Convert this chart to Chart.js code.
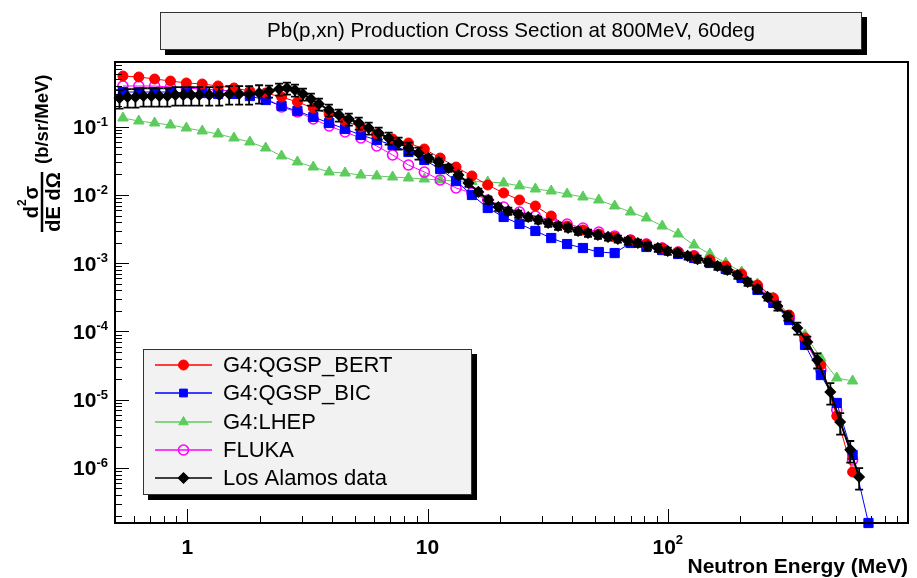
<!DOCTYPE html>
<html>
<head>
<meta charset="utf-8">
<title>Pb(p,xn) Production Cross Section at 800MeV, 60deg</title>
<script src="https://cdn.jsdelivr.net/npm/chart.js@4.4.1/dist/chart.umd.min.js"></script>
<style>
  html, body { margin: 0; padding: 0; background: #fff; }
  #wrap { width: 917px; height: 578px; }
</style>
</head>
<body>
<div id="wrap"><canvas id="xsChart" width="917" height="578"></canvas></div>
<script>
/* ============================================
   Pb(p,xn) double differential cross section
   ============================================ */

// Model bin centres (MeV)
const modelEnergy = [0.5395, 0.628, 0.731, 0.851, 0.991, 1.154, 1.343, 1.564, 1.821, 2.120,
  2.468, 2.873, 3.345, 3.894, 4.534, 5.278, 6.145, 7.154, 8.329, 9.697,
  11.29, 13.14, 15.30, 17.81, 20.74, 24.14, 28.11, 32.72, 38.10, 44.35,
  51.63, 60.11, 69.98, 81.47, 94.85, 110.4, 128.6, 149.7, 174.3, 202.9,
  236.2, 275.0, 320.2, 372.7, 433.9, 505.2, 588.1, 684.7, 797.1, 928.0];

const qgspBert = [0.554, 0.536, 0.501, 0.468, 0.438, 0.423, 0.396, 0.370, 0.334, 0.312,
  0.273, 0.231, 0.188, 0.154, 0.121, 0.0992, 0.0783, 0.0661, 0.0578, 0.0472,
  0.0348, 0.0257, 0.0190, 0.0140, 0.0107, 0.00845, 0.0069, 0.00492, 0.00351, 0.00307,
  0.00268, 0.00242, 0.00219, 0.00191, 0.00167, 0.00146, 0.00128, 0.00112, 0.000912, 0.000696,
  0.00048, 0.00031, 0.000174, 0.0000803, 0.0000323, 0.00000578, 0.000000874];

const qgspBic = [0.323, 0.323, 0.323, 0.323, 0.312, 0.312, 0.302, 0.302, 0.282, 0.2465,
  0.2014, 0.1701, 0.139, 0.1135, 0.0927, 0.0757, 0.0639, 0.054, 0.0427, 0.0326,
  0.024, 0.016, 0.01, 0.00645, 0.00476, 0.00376, 0.00297, 0.00234, 0.00191, 0.00167,
  0.00146, 0.00141, 0.00198, 0.00173, 0.00156, 0.001366, 0.001193, 0.001008, 0.000824, 0.000608,
  0.000406, 0.000262, 0.000147, 0.0000634, 0.000023, 0.00000896, 0.00000155, 0.000000156];

const lhep = [0.1343, 0.1214, 0.1135, 0.1061, 0.0959, 0.0867, 0.0783, 0.0684, 0.0598, 0.0488,
  0.0373, 0.0305, 0.0257, 0.0217, 0.0210, 0.0196, 0.0190, 0.01835, 0.01774, 0.01715,
  0.0166, 0.01604, 0.01575, 0.0155, 0.0150, 0.0136, 0.01224, 0.01144, 0.01034, 0.00935,
  0.00845, 0.0069, 0.00563, 0.0046, 0.00351, 0.00268, 0.00185, 0.001366, 0.001008, 0.000745,
  0.000497, 0.00031, 0.000158, 0.0000889, 0.0000409, 0.0000208, 0.0000188];

const fluka = [0.3955, 0.3955, 0.3955, 0.3823, 0.3696, 0.3573, 0.3454, 0.3341, 0.3123, 0.2638,
  0.1947, 0.1645, 0.1299, 0.1026, 0.0838, 0.0684, 0.0522, 0.0386, 0.0275, 0.0217,
  0.0166, 0.01267, 0.0107, 0.00845, 0.00667, 0.00563, 0.00492, 0.0043, 0.00376, 0.00328,
  0.00287, 0.00251, 0.00219, 0.00191, 0.00167, 0.00146, 0.00128, 0.00108, 0.000881, 0.00065,
  0.000449, 0.000289, 0.000158, 0.0000751, 0.0000273, 0.00000708, 0.00000131];

// Los Alamos measurement
const dataEnergy = [0.522, 0.564, 0.608, 0.657, 0.709, 0.765, 0.826, 0.892, 0.962, 1.039,
  1.121, 1.234, 1.358, 1.494, 1.644, 1.808, 1.99, 2.189, 2.409, 2.599,
  2.806, 3.029, 3.27, 3.53, 3.884, 4.273, 4.701, 5.172, 5.69, 6.26,
  6.888, 7.578, 8.337, 9.17, 10.1, 11.11, 12.22, 13.45, 14.8, 16.28,
  17.91, 19.7, 21.68, 23.85, 26.24, 28.87, 31.77, 34.95, 38.46, 42.31,
  46.56, 51.2, 56.4, 62.0, 68.2, 75.1, 82.6, 90.9, 100, 110,
  121, 133, 147, 161, 177, 195, 215, 236, 260, 286,
  315, 346, 381, 419, 475, 522, 575, 626];

const dataXs = [0.264, 0.273, 0.273, 0.282, 0.282, 0.282, 0.282, 0.292, 0.292, 0.292,
  0.292, 0.292, 0.292, 0.302, 0.302, 0.302, 0.312, 0.334, 0.357, 0.370,
  0.345, 0.302, 0.255, 0.216, 0.176, 0.149, 0.130, 0.1135, 0.0959, 0.081,
  0.0684, 0.0578, 0.0489, 0.0412, 0.0348, 0.0305, 0.0249, 0.0196, 0.0150, 0.0111,
  0.00845, 0.00667, 0.00583, 0.00527, 0.00476, 0.00431, 0.00389, 0.00351, 0.00329, 0.00297,
  0.00277, 0.00259, 0.00243, 0.00227, 0.00212, 0.00198, 0.00179, 0.00167, 0.00151, 0.00141,
  0.00128, 0.00115, 0.00104, 0.000912, 0.000796, 0.000673, 0.000531, 0.000419, 0.000321, 0.000237,
  0.000169, 0.0001125, 0.0000701, 0.0000382, 0.000013, 0.00000472, 0.00000184, 0.000000738];

// relative errors of the measurement
const dataErr = [0.3, 0.3, 0.3, 0.3, 0.3, 0.3, 0.3, 0.3, 0.3, 0.3,
  0.3, 0.3, 0.3, 0.3, 0.3, 0.3, 0.3, 0.2, 0.2, 0.2,
  0.2, 0.2, 0.2, 0.2, 0.2, 0.2, 0.2, 0.2, 0.2, 0.2,
  0.2, 0.2, 0.2, 0.2, 0.12, 0.12, 0.12, 0.12, 0.12, 0.12,
  0.12, 0.12, 0.12, 0.12, 0.12, 0.12, 0.12, 0.12, 0.12, 0.12,
  0.12, 0.12, 0.12, 0.12, 0.12, 0.12, 0.12, 0.12, 0.12, 0.12,
  0.12, 0.12, 0.12, 0.12, 0.12, 0.12, 0.12, 0.12, 0.12, 0.15,
  0.15, 0.2, 0.2, 0.25, 0.35, 0.35, 0.35, 0.35];

// Axis ticks
const xTickValues = [1, 10, 100];
const xTickBase = ['1', '10', '10'];
const xTickExp = ['', '', '2'];
const yTickValues = [1e-1, 1e-2, 1e-3, 1e-4, 1e-5, 1e-6];
const yTickExp = ['-1', '-2', '-3', '-4', '-5', '-6'];

const FONT = '"Liberation Sans", Arial, Helvetica, sans-serif';
const toPoints = (xs, ys) => ys.map((y, i) => ({ x: xs[i], y }));

const series = [
  { label: 'G4:QGSP_BERT',    color: '#ff0000', fill: '#ff0000', style: 'circle',   radius: 5,   bw: 1,   lw: 1,   data: toPoints(modelEnergy, qgspBert), order: 1 },
  { label: 'G4:QGSP_BIC',     color: '#0000ff', fill: '#0000ff', style: 'rect',     radius: 6.5, bw: 1,   lw: 1,   data: toPoints(modelEnergy, qgspBic),  order: 2 },
  { label: 'G4:LHEP',         color: '#5ccc5c', fill: '#5ccc5c', style: 'triangle', radius: 6,   bw: 1,   lw: 1,   data: toPoints(modelEnergy, lhep),     order: 4 },
  { label: 'FLUKA',           color: '#ff00ff', fill: 'rgba(0,0,0,0)', style: 'circle', radius: 5, bw: 1.6, lw: 1, data: toPoints(modelEnergy, fluka), order: 3 },
  { label: 'Los Alamos data', color: '#000000', fill: '#000000', style: 'rectRot',  radius: 5,   bw: 1.5, lw: 2,   data: toPoints(dataEnergy, dataXs),    order: 0 },
];

function drawPow(ctx, base, exp, x, baseY, expY, align) {
  ctx.font = 'bold 21px ' + FONT;
  const wb = ctx.measureText(base).width;
  ctx.font = 'bold 13px ' + FONT;
  const we = exp ? ctx.measureText(exp).width : 0;
  const total = wb + we;
  let start = align === 'right' ? x - total : x - total / 2;
  ctx.textAlign = 'left';
  ctx.textBaseline = 'alphabetic';
  ctx.font = 'bold 21px ' + FONT;
  ctx.fillText(base, start, baseY);
  if (exp) {
    ctx.font = 'bold 13px ' + FONT;
    ctx.fillText(exp, start + wb, expY);
  }
}

function marker(ctx, s, x, y) {
  ctx.save();
  ctx.fillStyle = s.fill;
  ctx.strokeStyle = s.color;
  ctx.lineWidth = s.bw;
  if (Chart.helpers && Chart.helpers.drawPoint) {
    Chart.helpers.drawPoint(ctx, { pointStyle: s.style, radius: Math.min(s.radius, 5.5), borderWidth: s.bw, rotation: 0 }, x, y);
  }
  ctx.restore();
}

const rootPlugin = {
  id: 'rootDecor',
  beforeDraw(chart) {
    const ctx = chart.ctx;
    ctx.save();
    ctx.fillStyle = '#fff';
    ctx.fillRect(0, 0, chart.width, chart.height);
    ctx.restore();
  },
  afterDatasetsDraw(chart) {
    // error bars on the measurement
    const ctx = chart.ctx;
    const xs = chart.scales.x, ys = chart.scales.y;
    ctx.save();
    ctx.strokeStyle = '#000';
    ctx.lineWidth = 1.8;
    dataEnergy.forEach((e, i) => {
      const px = xs.getPixelForValue(e);
      const lo = ys.getPixelForValue(dataXs[i] * (1 - dataErr[i]));
      const hi = ys.getPixelForValue(dataXs[i] * (1 + dataErr[i]));
      ctx.beginPath();
      ctx.moveTo(px, lo); ctx.lineTo(px, hi);
      ctx.moveTo(px - 4, lo); ctx.lineTo(px + 4, lo);
      ctx.moveTo(px - 4, hi); ctx.lineTo(px + 4, hi);
      ctx.stroke();
    });
    ctx.restore();
  },
  afterDraw(chart) {
    const ctx = chart.ctx;
    const ca = chart.chartArea;
    const xs = chart.scales.x, ys = chart.scales.y;
    ctx.save();

    // frame
    ctx.strokeStyle = '#000';
    ctx.lineWidth = 2;
    ctx.strokeRect(ca.left, ca.top, ca.right - ca.left, ca.bottom - ca.top);

    // ticks
    ctx.lineWidth = 1;
    ctx.beginPath();
    for (let d = -1; d <= 3; d++) {
      for (let m = 1; m <= 9; m++) {
        const v = m * Math.pow(10, d);
        if (v <= xs.min || v >= xs.max) continue;
        const px = Math.round(xs.getPixelForValue(v)) + 0.5;
        const len = m === 1 ? 14 : 7;
        ctx.moveTo(px, ca.bottom); ctx.lineTo(px, ca.bottom - len);
      }
    }
    for (let d = -7; d <= -1; d++) {
      for (let m = 1; m <= 9; m++) {
        const v = m * Math.pow(10, d);
        if (v <= ys.min || v >= ys.max) continue;
        const py = Math.round(ys.getPixelForValue(v)) + 0.5;
        const len = m === 1 ? 14 : 7;
        ctx.moveTo(ca.left, py); ctx.lineTo(ca.left + len, py);
      }
    }
    ctx.stroke();

    // tick labels
    ctx.fillStyle = '#000';
    xTickValues.forEach((v, i) => {
      drawPow(ctx, xTickBase[i], xTickExp[i], xs.getPixelForValue(v), 554, 544, 'center');
    });
    yTickValues.forEach((v, i) => {
      const py = ys.getPixelForValue(v);
      drawPow(ctx, '10', yTickExp[i], 108, py + 7.5, py - 1, 'right');
    });

    // x title
    ctx.font = 'bold 21px ' + FONT;
    ctx.textAlign = 'right';
    ctx.textBaseline = 'alphabetic';
    ctx.fillText('Neutron Energy (MeV)', 908, 573);

    // y title (rotated fraction)
    ctx.save();
    ctx.translate(42, 202);
    ctx.rotate(-Math.PI / 2);
    ctx.lineWidth = 2.5;
    ctx.beginPath(); ctx.moveTo(-30, 0); ctx.lineTo(30, 0); ctx.stroke();
    ctx.textBaseline = 'alphabetic';
    ctx.textAlign = 'left';
    ctx.font = 'bold 20px ' + FONT;
    const wd = ctx.measureText('d').width, ws = ctx.measureText('\u03c3').width;
    ctx.font = 'bold 12px ' + FONT;
    const w2 = ctx.measureText('2').width;
    let u = -(wd + w2 + ws) / 2;
    ctx.font = 'bold 20px ' + FONT;
    ctx.fillText('d', u, -4);
    ctx.font = 'bold 12px ' + FONT;
    ctx.fillText('2', u + wd, -16);
    ctx.font = 'bold 20px ' + FONT;
    ctx.fillText('\u03c3', u + wd + w2, -4);
    ctx.textAlign = 'center';
    ctx.fillText('dE d\u03a9', 0, 18);
    ctx.textAlign = 'left';
    ctx.font = 'bold 18.5px ' + FONT;
    ctx.fillText('(b/sr/MeV)', 38, 6);
    ctx.restore();

    // title box
    ctx.fillStyle = '#000';
    ctx.fillRect(165, 17, 702, 38);
    ctx.fillStyle = '#f0f0f0';
    ctx.fillRect(160, 12, 702, 38);
    ctx.strokeStyle = '#333';
    ctx.lineWidth = 1;
    ctx.strokeRect(160.5, 12.5, 701, 37);
    ctx.fillStyle = '#000';
    ctx.font = '20.6px ' + FONT;
    ctx.textAlign = 'center';
    ctx.textBaseline = 'middle';
    ctx.fillText('Pb(p,xn) Production Cross Section at 800MeV, 60deg', 511, 31);

    // legend box
    ctx.fillStyle = '#000';
    ctx.fillRect(148, 354, 329, 146);
    ctx.fillStyle = '#f2f2f2';
    ctx.fillRect(143, 349, 329, 146);
    ctx.strokeStyle = '#333';
    ctx.strokeRect(143.5, 349.5, 328, 145);
    const rows = [365, 393, 422, 450, 478];
    series.forEach((s, i) => {
      const y = rows[i];
      ctx.strokeStyle = s.color;
      ctx.lineWidth = 1.5;
      ctx.beginPath(); ctx.moveTo(155, y); ctx.lineTo(212, y); ctx.stroke();
      marker(ctx, s, 183.5, y);
      ctx.fillStyle = '#000';
      ctx.font = '22px ' + FONT;
      ctx.textAlign = 'left';
      ctx.textBaseline = 'middle';
      ctx.fillText(s.label, 223, y + 1);
    });

    ctx.restore();
  }
};

new Chart(document.getElementById('xsChart'), {
  type: 'line',
  data: {
    datasets: series.map(s => ({
      label: s.label,
      data: s.data,
      borderColor: s.color,
      backgroundColor: s.fill,
      pointBackgroundColor: s.fill,
      pointBorderColor: s.color,
      pointStyle: s.style,
      pointRadius: s.radius,
      pointBorderWidth: s.bw,
      borderWidth: s.lw,
      tension: 0,
      fill: false,
      order: s.order,
      clip: false
    }))
  },
  options: {
    responsive: false,
    animation: false,
    devicePixelRatio: 1,
    layout: { padding: { left: 115, right: 9, top: 62, bottom: 55 } },
    plugins: { legend: { display: false }, tooltip: { enabled: false } },
    scales: {
      x: {
        type: 'logarithmic', min: 0.5, max: 1000,
        ticks: { display: false }, grid: { display: false }, border: { display: false },
        afterFit: scale => { scale.height = 0; }
      },
      y: {
        type: 'logarithmic', min: 1.56e-7, max: 0.889,
        ticks: { display: false }, grid: { display: false }, border: { display: false },
        afterFit: scale => { scale.width = 0; }
      }
    }
  },
  plugins: [rootPlugin]
});
</script>
</body>
</html>
